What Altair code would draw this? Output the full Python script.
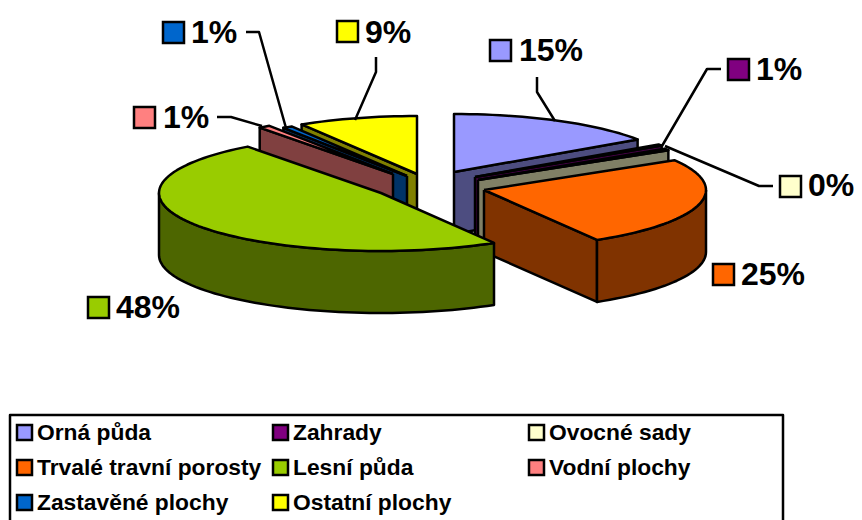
import math
import altair as alt
import pandas as pd

categories = ["Orná půda", "Zahrady", "Ovocné sady", "Trvalé travní porosty",
              "Lesní půda", "Vodní plochy", "Zastavěné plochy", "Ostatní plochy"]
shares = [15.5, 0.4, 0.5, 25.1, 48.25, 0.85, 0.7, 8.7]
labels = ["15%", "1%", "0%", "25%", "48%", "1%", "1%", "9%"]
top_colors = ["#9999FF", "#800080", "#FFFFCC", "#FF6600", "#99CC00", "#FF8080", "#0066CC", "#FFFF00"]
side_colors = ["#4D4D80", "#400040", "#808066", "#803300", "#4D6600", "#804040", "#003366", "#808000"]

# exploded centre of every slice, ellipse radii and thickness
centers = [(454, 172), (475, 177), (478, 180), (484, 190), (381, 193), (393, 174), (407, 176), (417, 174)]
RX, RY, DEPTH = 222, 58, 62
draw_order = [0, 1, 2, 7, 6, 5, 3, 4]

# label position: swatch left/top, text x, baseline, leader polyline
label_pos = [
    (490, 40, 519, 61, [(537, 77), (537, 92), (555, 121)]),
    (728, 59, 756, 80, [(721, 69), (707, 69), (662, 146)]),
    (780, 176, 808, 196, [(773, 186), (759, 186), (665, 146)]),
    (713, 264, 741, 285, []),
    (88, 297, 116, 318, []),
    (134, 107, 163, 128, [(217, 117), (231, 117), (262, 126)]),
    (163, 22, 191, 43, [(246, 32), (259, 32), (286, 128)]),
    (337, 21, 365, 43, [(376, 57), (376, 72), (355, 120)]),
]
legend_cols = [37, 293, 549]
legend_rows = [440, 475, 510]

X = alt.X("x:Q", scale=alt.Scale(domain=[8, 854], nice=False, zero=False), axis=None)
Y = alt.Y("y:Q", scale=alt.Scale(domain=[520, 8], nice=False, zero=False), axis=None)


def ell(c, deg):
    a = math.radians(deg)
    return (c[0] + RX * math.sin(a), c[1] - RY * math.cos(a))


def poly(points, fill, stroke="black", width=2.5):
    df = pd.DataFrame({"x": [p[0] for p in points], "y": [p[1] for p in points],
                       "i": list(range(len(points)))})
    kw = {"fill": fill} if fill else {}
    return alt.Chart(df).mark_line(stroke=stroke, strokeWidth=width, strokeJoin="round",
                                   clip=False, **kw).encode(x=X, y=Y, order=alt.Order("i:Q"))


def drop(p):
    return (p[0], p[1] + DEPTH)


layers = []
bounds = [0.0]
for s in shares:
    bounds.append(bounds[-1] + s * 3.6)

for k in draw_order:
    c, t1, t2 = centers[k], bounds[k], bounds[k + 1]
    n = max(2, int((t2 - t1) / 2) + 2)
    arc = [ell(c, t1 + (t2 - t1) * j / (n - 1)) for j in range(n)]
    if t2 < 180:
        a, b = c, arc[-1]
        layers.append(poly([a, b, drop(b), drop(a), a], side_colors[k]))
    if t1 > 180:
        a, b = c, arc[0]
        layers.append(poly([a, b, drop(b), drop(a), a], side_colors[k]))
    lo, hi = max(t1, 90), min(t2, 270)
    if hi > lo:
        m = int((hi - lo) / 2) + 2
        rim = [ell(c, lo + (hi - lo) * j / (m - 1)) for j in range(m)]
        layers.append(poly(rim + [drop(p) for p in reversed(rim)] + [rim[0]], side_colors[k]))
    layers.append(poly([c] + arc + [c], top_colors[k]))

for k, (sx, sy, tx, ty, leader) in enumerate(label_pos):
    if leader:
        layers.append(poly(leader, None))
    layers.append(alt.Chart(pd.DataFrame({"x": [sx], "x2": [sx + 21], "y": [sy], "y2": [sy + 21]}))
                  .mark_rect(fill=top_colors[k], stroke="black", strokeWidth=2.5)
                  .encode(x=X, x2="x2:Q", y=Y, y2="y2:Q"))
    layers.append(alt.Chart(pd.DataFrame({"x": [tx], "y": [ty], "t": [labels[k]]}))
                  .mark_text(align="left", baseline="alphabetic", font="Liberation Sans",
                             fontWeight="bold", fontSize=32, color="black")
                  .encode(x=X, y=Y, text="t:N"))

layers.append(poly([(10, 520), (10, 415), (783, 415), (783, 520)], None))
for k, name in enumerate(categories):
    row, col = k // 3, k % 3
    tx, ty = legend_cols[col], legend_rows[row]
    layers.append(alt.Chart(pd.DataFrame({"x": [tx - 20], "x2": [tx - 5], "y": [ty - 15], "y2": [ty]}))
                  .mark_rect(fill=top_colors[k], stroke="black", strokeWidth=2.5)
                  .encode(x=X, x2="x2:Q", y=Y, y2="y2:Q"))
    layers.append(alt.Chart(pd.DataFrame({"x": [tx], "y": [ty], "t": [name]}))
                  .mark_text(align="left", baseline="alphabetic", font="Liberation Sans",
                             fontWeight="bold", fontSize=22.8, color="black")
                  .encode(x=X, y=Y, text="t:N"))

chart = alt.layer(*layers).properties(
    width=846, height=512, padding=0, autosize=alt.AutoSizeParams(type="none")
).configure_view(stroke=None)

chart.save("out.html", embed_options={"renderer": "svg", "actions": False})
